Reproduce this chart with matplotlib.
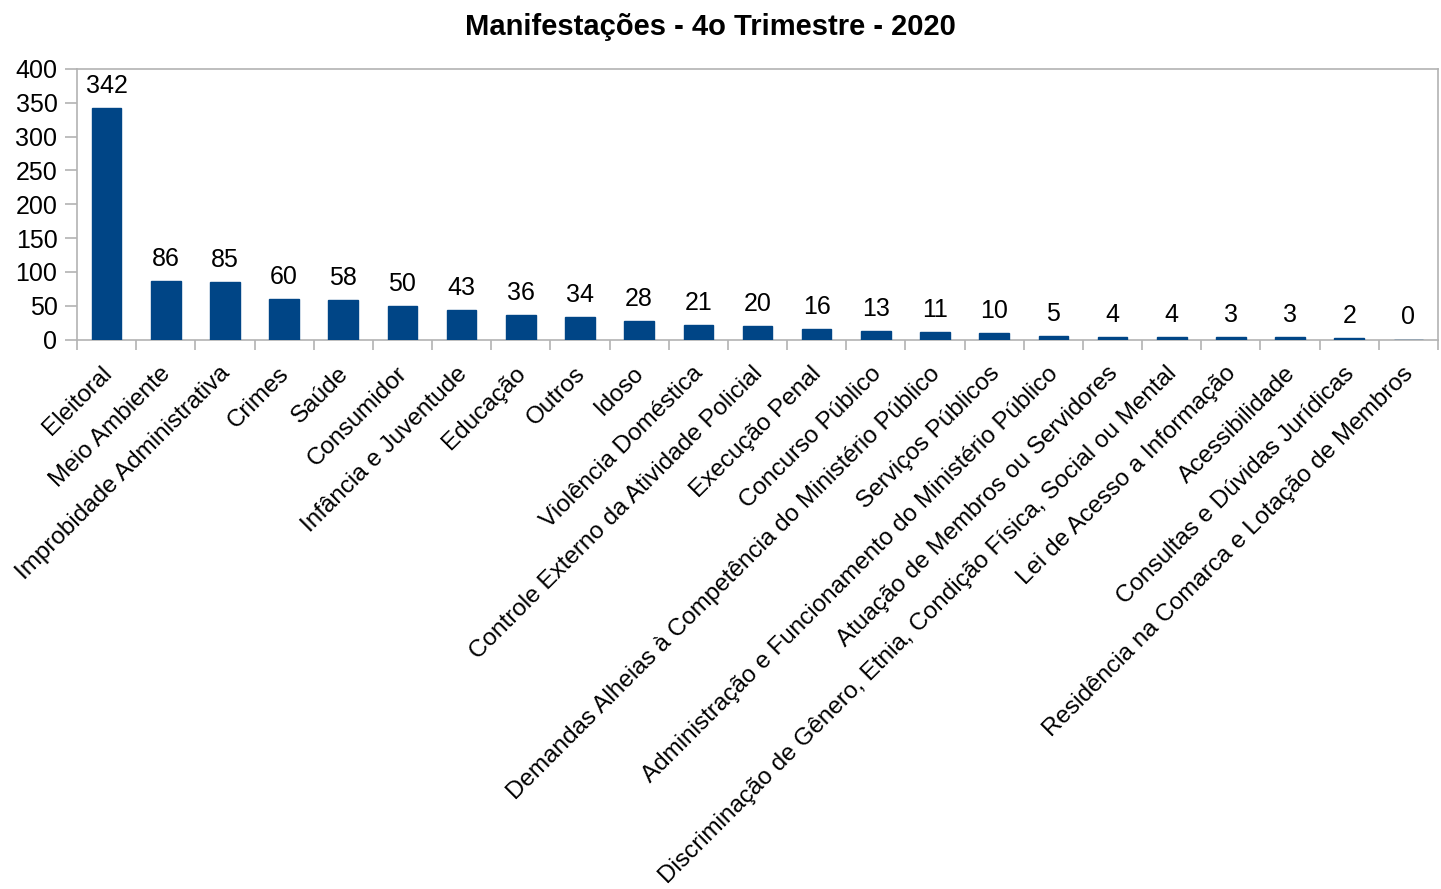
import matplotlib
matplotlib.use("Agg")
import matplotlib.pyplot as plt
import matplotlib.transforms as mtransforms
import numpy as np

plt.rcParams['font.family'] = ['Liberation Sans', 'DejaVu Sans']

categorias = [
    "Eleitoral", "Meio Ambiente", "Improbidade Administrativa", "Crimes", "Saúde",
    "Consumidor", "Infância e Juventude", "Educação", "Outros", "Idoso",
    "Violência Doméstica", "Controle Externo da Atividade Policial", "Execução Penal",
    "Concurso Público", "Demandas Alheias à Competência do Ministério Público",
    "Serviços Públicos", "Administração e Funcionamento do Ministério Público",
    "Atuação de Membros ou Servidores",
    "Discriminação de Gênero, Etnia, Condição Física, Social ou Mental",
    "Lei de Acesso a Informação", "Acessibilidade", "Consultas e Dúvidas Jurídicas",
    "Residência na Comarca e Lotação de Membros",
]
valores = [342, 86, 85, 60, 58, 50, 43, 36, 34, 28, 21, 20, 16, 13, 11, 10, 5, 4, 4, 3, 3, 2, 0]
yticks = [0, 50, 100, 150, 200, 250, 300, 350, 400]

W, H = 1441, 889
fig = plt.figure(figsize=(W / 100, H / 100), dpi=100)
ax = fig.add_axes([77 / W, 1 - 339.5 / H, (1438 - 77) / W, (339.5 - 69) / H])

x = np.arange(len(categorias))
ax.bar(x, valores, width=0.5, color="#004586", edgecolor="#004586", linewidth=1, zorder=3)
for xi, v in zip(x, valores):
    ax.annotate(str(v), (xi, v), xytext=(0, 10), textcoords="offset pixels",
                ha="center", va="bottom", fontsize=18)

ax.set_xlim(-0.5, len(categorias) - 0.5)
ax.set_ylim(0, 400)
ax.set_yticks(yticks)
ax.set_yticklabels([str(t) for t in yticks], fontsize=18)

# ticks on category boundaries, labels at category centres
ax.set_xticks(np.arange(len(categorias) + 1) - 0.5)
ax.set_xticklabels([])
ax.set_xticks(x, minor=True)
ax.set_xticklabels(categorias, minor=True, rotation=45, ha="right", va="top",
                   rotation_mode="anchor", fontsize=17.5)
ax.tick_params(axis="x", which="minor", length=0, pad=16.5)
ax.tick_params(axis="x", which="major", length=7.2, width=1.2, color="#b3b3b3")
ax.tick_params(axis="y", length=8.6, width=1.2, color="#b3b3b3", pad=5.5)
shift = mtransforms.ScaledTranslation(-6 / 100, 0, fig.dpi_scale_trans)
for lab in ax.get_xticklabels(minor=True):
    lab.set_transform(lab.get_transform() + shift)

for s in ax.spines.values():
    s.set_color("#b3b3b3")
    s.set_linewidth(1.2)

fig.text(710 / W, 1 - 27 / H, "Manifestações - 4o Trimestre - 2020", ha="center", va="center",
         fontsize=21, fontweight="bold")

fig.savefig("out.png", dpi=100)
